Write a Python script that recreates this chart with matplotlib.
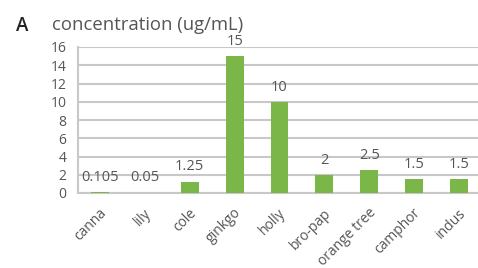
import matplotlib
matplotlib.use('Agg')
import matplotlib.pyplot as plt
import matplotlib.transforms as mtransforms

plants = ['canna', 'lily', 'cole', 'ginkgo', 'holly', 'bro-pap', 'orange tree', 'camphor', 'indus']
conc = [0.105, 0.05, 1.25, 15, 10, 2, 2.5, 1.5, 1.5]
labels = ['0.105', '0.05', '1.25', '15', '10', '2', '2.5', '1.5', '1.5']
yticks = [0, 2, 4, 6, 8, 10, 12, 14, 16]

plt.rcParams['font.family'] = ['Open Sans', 'DejaVu Sans']
txt = '#555555'

fig = plt.figure(figsize=(4.78, 2.68), dpi=100)
ax = fig.add_axes([77.5 / 478, 1 - 193 / 268, (481.5 - 77.5) / 478, 146 / 268])

x = range(len(plants))
ax.bar(x, conc, width=0.4, color='#7ab648', zorder=3)
for i, v in enumerate(conc):
    ax.annotate(labels[i], (i, v), xytext=(0, 8), textcoords='offset points',
                ha='center', va='baseline', fontsize=10.5, color=txt)

ax.set_xlim(-0.5, len(plants) - 0.5)
ax.set_ylim(0, 16)
ax.set_yticks(yticks)
ax.tick_params(axis='y', length=0, pad=8, labelsize=10, labelcolor=txt)
ax.set_xticks(list(x))
ax.set_xticklabels(plants, rotation=45, ha='right', rotation_mode='anchor',
                   fontsize=10, color=txt)
ax.tick_params(axis='x', length=0, pad=9)
shift = mtransforms.ScaledTranslation(-1 / 100, 0, fig.dpi_scale_trans)
for lbl in ax.get_xticklabels():
    lbl.set_transform(lbl.get_transform() + shift)
ax.yaxis.grid(True, color='#c8c8c8', linewidth=1.5, zorder=0)
for s in ['top', 'right']:
    ax.spines[s].set_visible(False)
ax.spines['left'].set_color('#c8c8c8')
ax.spines['bottom'].set_color('#c8c8c8')
ax.spines['left'].set_linewidth(1.5)
ax.spines['bottom'].set_linewidth(1.5)

fig.text(16 / 478, 1 - 31 / 268, 'A', fontsize=13.5, fontweight='semibold', color='#222222',
         ha='left', va='baseline')
fig.text(52 / 478, 1 - 29.5 / 268, 'concentration (ug/mL)', fontsize=13.3, color=txt,
         ha='left', va='baseline')

fig.savefig('out.png', dpi=100)
